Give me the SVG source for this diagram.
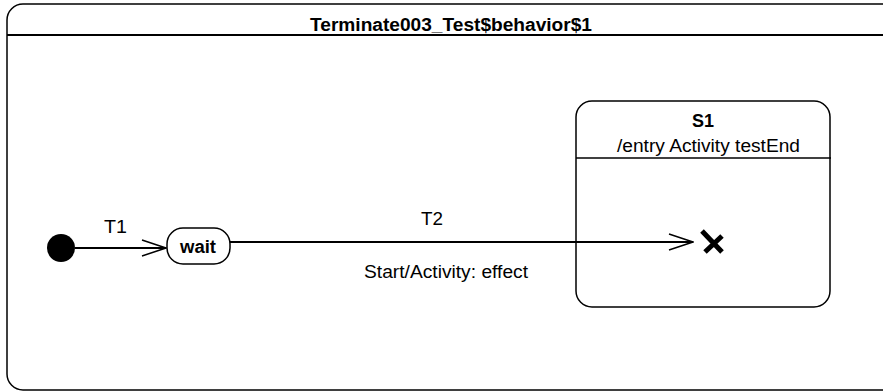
<svg xmlns="http://www.w3.org/2000/svg" width="883" height="392" viewBox="0 0 883 392">
<defs>
<style>
.ln{fill:none;stroke:#000;stroke-width:2}
.nd{fill:#fff;stroke:#000;stroke-width:1.5}
.t{font-family:"Liberation Sans",Arial,sans-serif;font-size:17.5px;fill:#000;text-anchor:middle}
.b{font-weight:bold}
</style>
<marker id="open" markerWidth="26" markerHeight="20" refX="25" refY="9" orient="auto" markerUnits="userSpaceOnUse">
<path d="M1,1 L25,9 L1,17" fill="none" stroke="#000" stroke-width="1.5"/>
</marker>
</defs>
<rect width="883" height="392" fill="#fff"/>
<g id="frame">
<rect x="7" y="4" width="900" height="386" rx="16" ry="16" class="nd"/>
<line x1="7" y1="35" x2="883" y2="35" stroke="#000" stroke-width="2"/>
<text class="t b" x="451" y="31" textLength="282" lengthAdjust="spacingAndGlyphs">Terminate003_Test$behavior$1</text>
</g>
<g id="S1">
<rect x="576" y="101" width="254" height="206" rx="16" ry="16" class="nd"/>
<line x1="576" y1="158" x2="831" y2="158" stroke="#000" stroke-width="1.5"/>
<text class="t b" x="703" y="127" textLength="22" lengthAdjust="spacingAndGlyphs">S1</text>
<text class="t" x="708.5" y="152" textLength="183" lengthAdjust="spacingAndGlyphs">/entry Activity testEnd</text>
</g>
<g id="initial">
<circle cx="61" cy="248" r="14" fill="#000"/>
</g>
<g id="wait">
<rect x="167" y="228" width="63" height="36" rx="16" ry="16" class="nd"/>
<text class="t b" x="198" y="253" textLength="36" lengthAdjust="spacingAndGlyphs">wait</text>
</g>
<g id="terminate">
<path d="M702,231 L722,252 M705,252 L722,236" fill="none" stroke="#000" stroke-width="5"/>
</g>
<g id="connectors">
<line x1="75" y1="248" x2="166" y2="248" class="ln" marker-end="url(#open)"/>
<text class="t" x="115.5" y="233" textLength="23" lengthAdjust="spacingAndGlyphs">T1</text>
<line x1="230" y1="242" x2="693" y2="242" class="ln" marker-end="url(#open)"/>
<text class="t" x="432" y="225" textLength="22" lengthAdjust="spacingAndGlyphs">T2</text>
<text class="t" x="446" y="278" textLength="164" lengthAdjust="spacingAndGlyphs">Start/Activity: effect</text>
</g>
</svg>
